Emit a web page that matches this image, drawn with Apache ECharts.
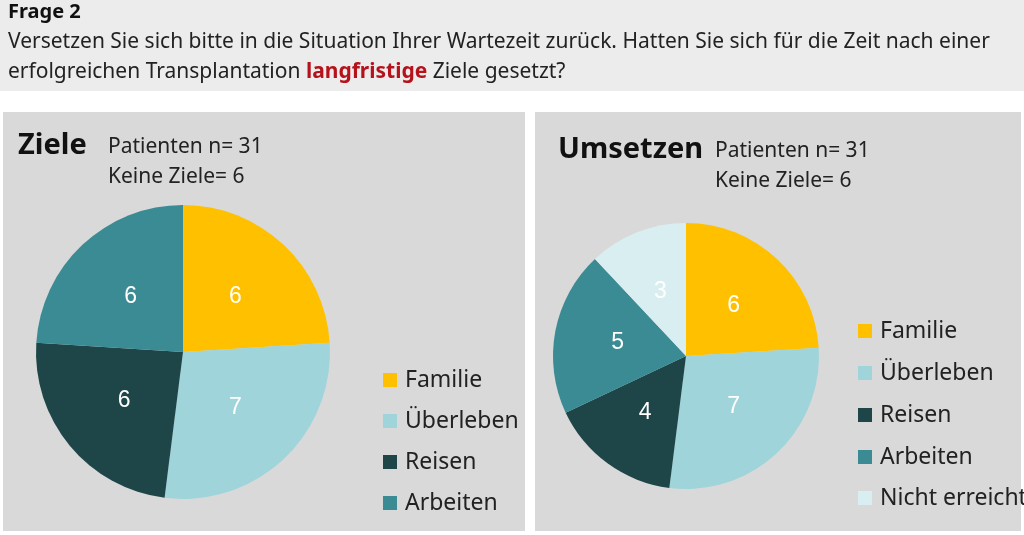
<!DOCTYPE html>
<html><head><meta charset="utf-8">
<script src="https://cdn.jsdelivr.net/npm/echarts@6/dist/echarts.min.js"></script>
<style>html,body{margin:0;padding:0;background:#fff}#c{width:1024px;height:535px}</style>
</head><body><div id="c"></div>
<script>
const F = "'Liberation Sans Narrow','Arial Narrow','Noto Sans',sans-serif";
const zieleCats = ['Familie','Überleben','Reisen','Arbeiten'];
const zieleVals = [6,7,6,6];
const umsCats = ['Familie','Überleben','Reisen','Arbeiten','Nicht erreicht'];
const umsVals = [6,7,4,5,3];
const colors = ['#ffc000','#9fd4da','#1e4649','#3a8b93','#d9eef1'];
const chart = echarts.init(document.getElementById('c'));
function pieSeries(cats, vals, center, r){
  return {type:'pie', center:center, radius:r, startAngle:90, clockwise:true, silent:true,
    data:cats.map((n,i)=>({name:n,value:vals[i],itemStyle:{color:colors[i]}})),
    label:{show:true,position:'inside',formatter:'{c}',color:'#fff',fontSize:23,fontFamily:'Liberation Sans'},
    labelLine:{show:false}, itemStyle:{borderWidth:0}};
}
function legendItems(cats, x, ys){
  const out=[];
  cats.forEach((c,i)=>{
    out.push({type:'rect',shape:{x:x,y:ys[i]-7,width:14,height:14},style:{fill:colors[i]}});
    out.push({type:'text',x:x+22,y:ys[i],style:{text:c,font:'23px '+F,fill:'#222',textVerticalAlign:'middle'}});
  });
  return out;
}
const g = [
  {type:'rect',z:-10,shape:{x:0,y:0,width:1024,height:91},style:{fill:'#ececec'}},
  {type:'rect',z:-10,shape:{x:3,y:112,width:522,height:419},style:{fill:'#d9d9d9'}},
  {type:'rect',z:-10,shape:{x:535,y:112,width:486,height:419},style:{fill:'#d9d9d9'}},
  {type:'text',x:8,y:12,style:{text:'Frage 2',font:'bold 20px '+F,fill:'#111',textVerticalAlign:'middle'}},
  {type:'text',x:8,y:42,style:{text:'Versetzen Sie sich bitte in die Situation Ihrer Wartezeit zurück. Hatten Sie sich für die Zeit nach einer',font:'21px '+F,fill:'#222',textVerticalAlign:'middle'}},
  {type:'text',x:8,y:72,style:{rich:{a:{font:'21px '+F,fill:'#222'},b:{font:'bold 21px '+F,fill:'#b5121b'}},text:'{a|erfolgreichen Transplantation }{b|langfristige}{a| Ziele gesetzt?}',textVerticalAlign:'middle'}},
  {type:'text',x:18,y:146,style:{text:'Ziele',font:'bold 29px '+F,fill:'#111',textVerticalAlign:'middle'}},
  {type:'text',x:108,y:147,style:{text:'Patienten n= 31',font:'21px '+F,fill:'#222',textVerticalAlign:'middle'}},
  {type:'text',x:108,y:177,style:{text:'Keine Ziele= 6',font:'21px '+F,fill:'#222',textVerticalAlign:'middle'}},
  {type:'text',x:558,y:150,style:{text:'Umsetzen',font:'bold 29px '+F,fill:'#111',textVerticalAlign:'middle'}},
  {type:'text',x:715,y:151,style:{text:'Patienten n= 31',font:'21px '+F,fill:'#222',textVerticalAlign:'middle'}},
  {type:'text',x:715,y:181,style:{text:'Keine Ziele= 6',font:'21px '+F,fill:'#222',textVerticalAlign:'middle'}},
].concat(legendItems(zieleCats,383,[380,421,462,503])).concat(legendItems(umsCats,858,[331,373,415,457,498]));
chart.setOption({animation:false,graphic:g,series:[pieSeries(zieleCats,zieleVals,[183,352],147),pieSeries(umsCats,umsVals,[686,356],133)]});
</script></body></html>
